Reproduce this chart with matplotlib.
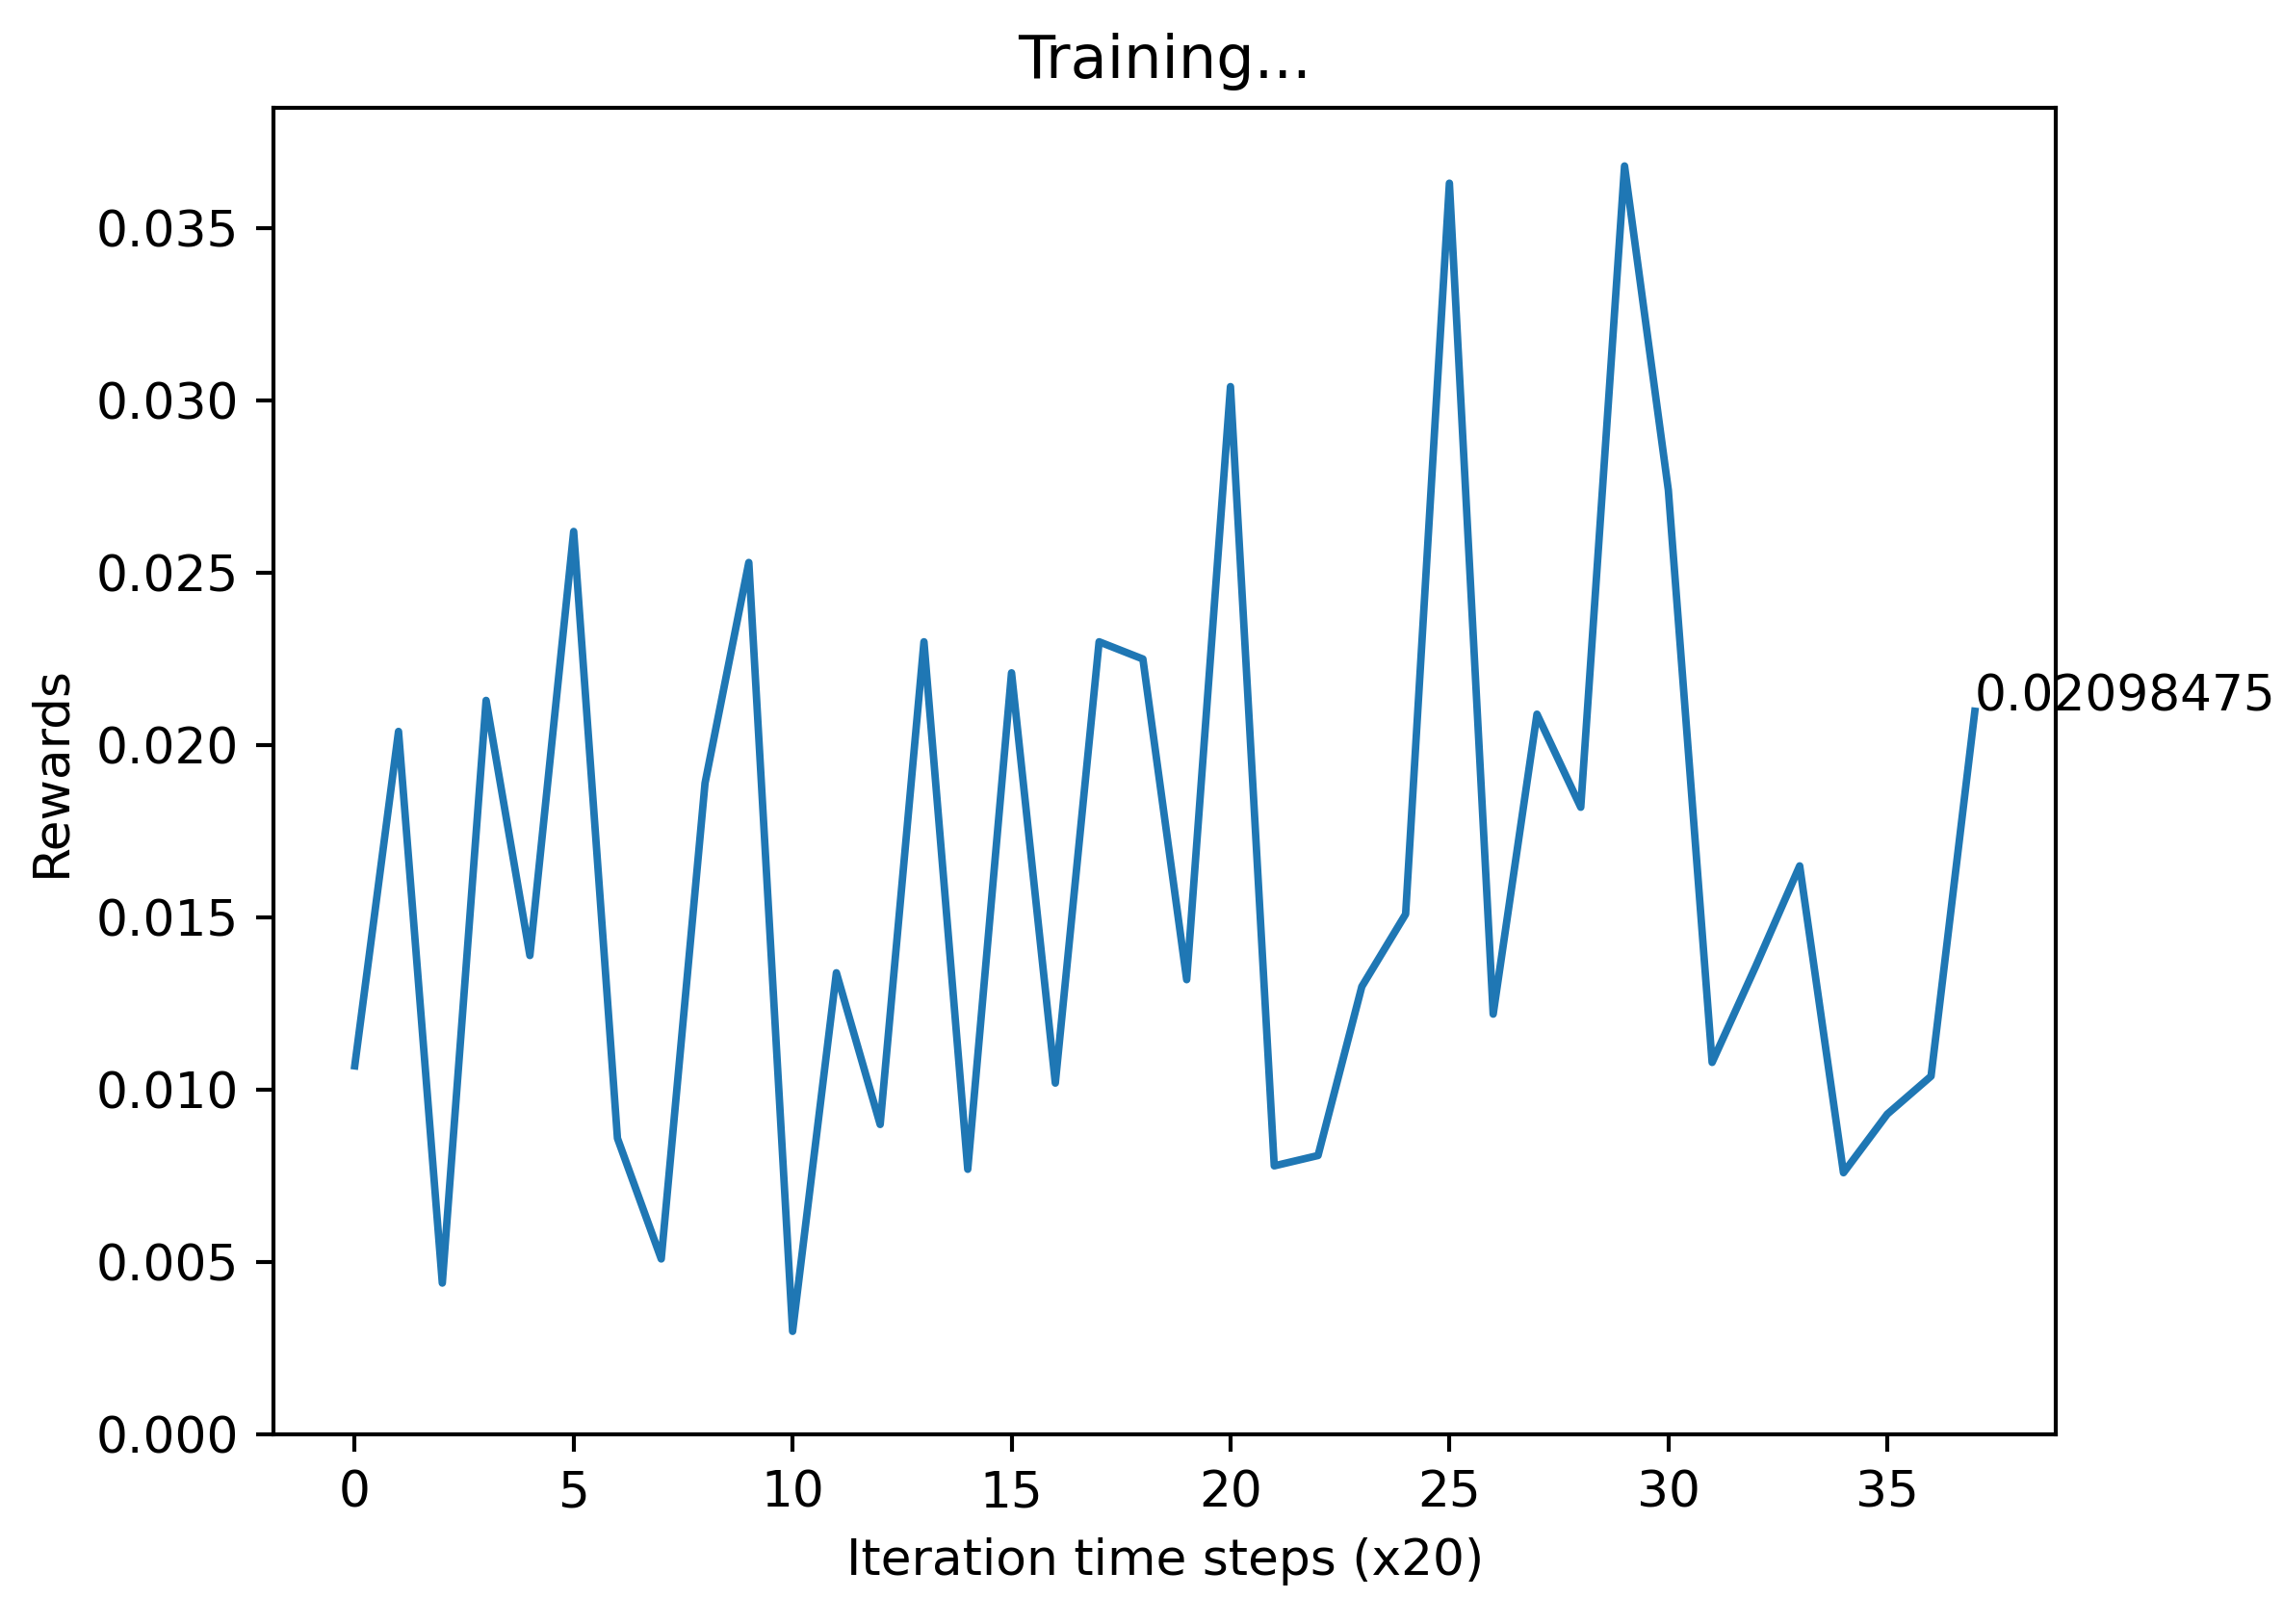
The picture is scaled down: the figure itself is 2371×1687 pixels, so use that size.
import matplotlib
matplotlib.use("Agg")
import matplotlib.pyplot as plt

# rewards per logged step (every 20 iterations)
steps = list(range(38))
rewards = [
    0.0107, 0.0204, 0.0044, 0.0213, 0.0139, 0.0262, 0.0086, 0.0051, 0.0189, 0.0253,
    0.0030, 0.0134, 0.0090, 0.0230, 0.0077, 0.0221, 0.0102, 0.0230, 0.0225, 0.0132,
    0.0304, 0.0078, 0.0081, 0.0130, 0.0151, 0.0363, 0.0122, 0.0209, 0.0182, 0.0368,
    0.0274, 0.0108, 0.0136, 0.0165, 0.0076, 0.0093, 0.0104, 0.02098475,
]
last_label = "0.02098475"

fig = plt.figure(figsize=(2371 / 373, 1687 / 373), dpi=373)
ax = fig.add_axes([0.1199, 0.1165, 0.9005 - 0.1199, 0.9337 - 0.1165])
ax.plot(steps, rewards, color="#1f77b4")
ax.set_ylim(bottom=0)
ax.set_title("Training...")
ax.set_xlabel("Iteration time steps (x20)")
ax.set_ylabel("Rewards")
ax.text(steps[-1], rewards[-1], last_label)

fig.savefig("out.png", dpi=373)
